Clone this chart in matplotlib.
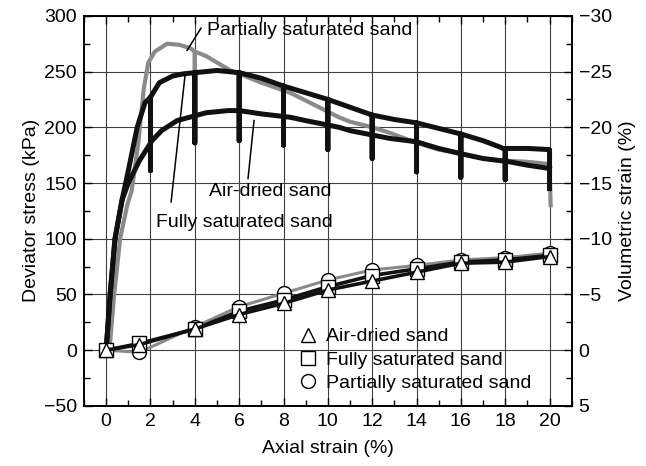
import numpy as np
import matplotlib
matplotlib.use('Agg')
import matplotlib.pyplot as plt
from matplotlib.lines import Line2D
from matplotlib.ticker import MultipleLocator

plt.rcParams['font.family'] = ['Liberation Sans', 'DejaVu Sans']
plt.rcParams['axes.unicode_minus'] = True

FS = 14

# deviator stress curves (axial strain %, kPa); unloading spikes every 2 %
part_x = [0.15, 0.36, 0.63, 0.95, 1.15, 1.45, 1.7, 1.9, 2.2, 2.75, 3.3, 3.8, 4.0, 4.0, 4.0,
          4.5, 5.6, 6.0, 7.0, 8.3, 9.0, 10.5, 11.0, 12.0, 12.8, 14.0, 15.0, 16.3, 17.0,
          18.0, 19.0, 20.0, 20.05]
part_y = [0, 50, 100, 130, 143, 186, 235, 258, 268, 275, 274, 271, 268, 250, 268,
          264, 251, 248, 240, 231, 224, 209, 205, 200, 195, 186, 180, 175, 172,
          170, 169, 167, 130]

full_x = [0.0, 0.18, 0.4, 0.72, 1.0, 1.4, 1.75, 2.0, 2.0, 2.0, 2.4, 3.0, 3.5, 4.0, 4.0, 4.0,
          5.0, 6.0, 6.0, 6.0, 7.0, 8.0, 8.0, 8.0, 9.0, 10.0, 10.0, 10.0, 11.0, 12.0, 12.0, 12.0,
          13.0, 14.0, 14.0, 14.0, 15.0, 16.0, 16.0, 16.0, 17.0, 17.8, 18.0, 18.0, 18.0,
          19.0, 20.0, 20.0]
full_y = [0, 50, 100, 135, 161, 200, 222, 227, 161, 227, 240, 246, 248, 249, 186, 249,
          251, 249, 188, 249, 244, 237, 184, 237, 231, 225, 180, 225, 218, 211, 172, 211,
          207, 204, 160, 204, 199, 194, 155, 194, 188, 182, 180, 153, 181,
          181, 180, 145]

air_x = [0.0, 0.18, 0.4, 0.72, 1.0, 1.5, 2.07, 2.5, 3.2, 4.5, 5.5, 6.0, 7.0, 8.3, 9.0,
         10.5, 11.0, 12.8, 14.0, 15.0, 16.3, 17.0, 18.2, 19.0, 20.0]
air_y = [0, 50, 100, 135, 150, 170, 188, 197, 206, 213, 215, 215, 212, 209, 206,
         200, 197, 190, 187, 181, 175, 172, 169, 166, 163]

# volumetric strain (%), negative = dilation
vol_x = [0, 1.5, 4, 6, 8, 10, 12, 14, 16, 18, 20]
vol_air = [0.0, -0.5, -1.9, -3.2, -4.2, -5.4, -6.2, -7.0, -7.8, -7.9, -8.4]
vol_full = [0.0, -0.6, -1.9, -3.5, -4.5, -5.7, -6.7, -7.3, -7.9, -8.1, -8.5]
vol_part = [0.0, 0.2, -2.1, -3.9, -5.1, -6.3, -7.2, -7.6, -8.1, -8.3, -8.7]

fig = plt.figure(figsize=(6.46, 4.66), dpi=100)
ax = fig.add_axes([0.130, 0.129, 0.755, 0.837])
ax2 = ax.twinx()

ax.set_xlim(-1, 21)
ax.set_ylim(-50, 300)
ax2.set_ylim(5, -30)

ax.grid(True, which='major', color='0.25', lw=0.8)
ax.set_axisbelow(True)

ax.plot(part_x, part_y, color='#8a8a8a', lw=3.0, solid_joinstyle='round', zorder=3)
ax.plot(full_x, full_y, color='#111111', lw=3.6, solid_joinstyle='round', zorder=4)
ax.plot(air_x, air_y, color='#111111', lw=3.6, solid_joinstyle='round', zorder=4)

# leader lines and curve labels
ax.plot([4.28, 3.65], [289, 269], color='k', lw=1.1, zorder=5)
ax.text(4.55, 287, 'Partially saturated sand', fontsize=FS, va='center', ha='left')
ax.plot([6.4, 6.67], [154, 206], color='k', lw=1.1, zorder=5)
ax.text(4.64, 142, 'Air-dried sand', fontsize=FS, va='center', ha='left')
ax.plot([2.93, 3.56], [133, 247], color='k', lw=1.1, zorder=5)
ax.text(2.25, 115, 'Fully saturated sand', fontsize=FS, va='center', ha='left')

mk = dict(mfc='white', mec='k', mew=1.0, ms=10)
ax2.plot(vol_x, vol_part, color='#8a8a8a', lw=2.2, marker='o', **mk, zorder=3)
ax2.plot(vol_x, vol_full, color='#111111', lw=2.6, marker='s', **mk, zorder=4)
ax2.plot(vol_x, vol_air, color='#111111', lw=2.6, marker='^', **mk, zorder=5)

handles = [Line2D([], [], ls='none', marker='^', **mk),
           Line2D([], [], ls='none', marker='s', **mk),
           Line2D([], [], ls='none', marker='o', **mk)]
ax2.legend(handles, ['Air-dried sand', 'Fully saturated sand', 'Partially saturated sand'],
           loc='lower left', bbox_to_anchor=(0.42, 0.005), frameon=False,
           fontsize=FS, handlelength=0.8, handletextpad=0.5, labelspacing=0.3,
           borderaxespad=0.2)

ax.xaxis.set_major_locator(MultipleLocator(2))
ax.xaxis.set_minor_locator(MultipleLocator(1))
ax.yaxis.set_major_locator(MultipleLocator(50))
ax.yaxis.set_minor_locator(MultipleLocator(25))
ax2.yaxis.set_major_locator(MultipleLocator(5))
ax2.yaxis.set_minor_locator(MultipleLocator(2.5))

ax.tick_params(which='both', direction='in', top=True, right=False, labelsize=FS, pad=5)
ax.tick_params(which='major', length=6, width=1)
ax.tick_params(which='minor', length=4, width=1)
ax2.tick_params(which='both', direction='in', labelsize=FS, pad=5)
ax2.tick_params(which='major', length=6, width=1)
ax2.tick_params(which='minor', length=4, width=1)

for a in (ax, ax2):
    for s in a.spines.values():
        s.set_linewidth(1.2)

ax.set_xlabel('Axial strain (%)', fontsize=FS, labelpad=7)
ax.set_ylabel('Deviator stress (kPa)', fontsize=FS, labelpad=3)
ax2.set_ylabel('Volumetric strain (%)', fontsize=FS, labelpad=5)

fig.savefig('out.png', dpi=100)
